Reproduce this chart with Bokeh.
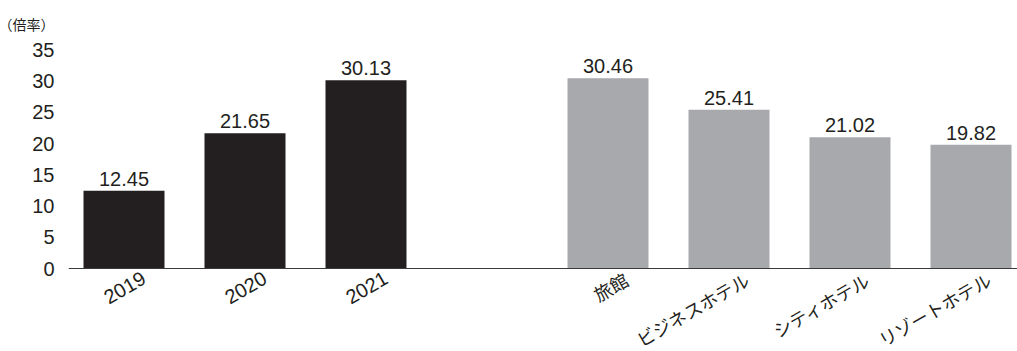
import math
from bokeh.plotting import figure
from bokeh.models import ColumnDataSource, Range1d, FixedTicker, Span
from bokeh.core.properties import value
from bokeh.embed import file_html
from bokeh.resources import INLINE

# ---- data ----
years = ["2019", "2020", "2021"]
year_values = [12.45, 21.65, 30.13]
types = ["旅館", "ビジネスホテル", "シティホテル", "リゾートホテル"]
type_values = [30.46, 25.41, 21.02, 19.82]
y_ticks = [0, 5, 10, 15, 20, 25, 30, 35]
unit_label = "（倍率）"

# ---- layout ----
W, H = 1017, 351
LEFT, TOP = 68, 38
ZERO_Y = 268          # pixel row of y = 0
PX_PER_UNIT = 6.25
PX_PER_SLOT = 121
FIRST_CENTER = 123.5

x_start = -(FIRST_CENTER - LEFT) / PX_PER_SLOT
x_end = x_start + (W - LEFT) / PX_PER_SLOT
y_end = (ZERO_Y - TOP) / PX_PER_UNIT
y_start = -(H - ZERO_Y) / PX_PER_UNIT

p = figure(width=W, height=H, output_backend="svg", toolbar_location=None,
           x_range=Range1d(x_start, x_end), y_range=Range1d(y_start, y_end),
           min_border_left=LEFT, min_border_right=0, min_border_bottom=0,
           min_border_top=TOP)
p.outline_line_color = None
p.xgrid.visible = False
p.ygrid.visible = False
p.xaxis.visible = False
p.background_fill_color = "white"
p.border_fill_color = "white"

BLACK = "#231f20"
GRAY = "#a7a9ac"
NUM_FONT = value("Liberation Sans")
JP_FONT = value("Noto Sans CJK JP")

yx = list(range(len(years)))
tx = [len(years) + 1 + i for i in range(len(types))]

src_y = ColumnDataSource(dict(x=yx, v=year_values, lab=years,
                              t=[f"{v:.2f}" for v in year_values]))
src_t = ColumnDataSource(dict(x=tx, v=type_values, lab=types,
                              t=[f"{v:.2f}" for v in type_values]))

BW = 81 / PX_PER_SLOT
p.vbar(x="x", top="v", bottom=0, width=BW, source=src_y,
       fill_color=BLACK, line_color=None)
p.vbar(x="x", top="v", bottom=0, width=BW, source=src_t,
       fill_color=GRAY, line_color=None)

for src in (src_y, src_t):
    p.text(x="x", y="v", text="t", source=src, text_align="center",
           text_baseline="bottom", y_offset=-5, text_font=NUM_FONT,
           text_font_size="20px", text_color=BLACK)

ang = math.radians(30)
p.text(x="x", y=0, text="lab", source=src_y, angle=ang, text_align="right",
       text_baseline="middle", x_offset=20, y_offset=8, text_font=NUM_FONT,
       text_font_size="20px", text_color=BLACK)
p.text(x="x", y=0, text="lab", source=src_t, angle=ang, text_align="right",
       text_baseline="middle", x_offset=18, y_offset=9, text_font=JP_FONT,
       text_font_size="18px", text_color=BLACK)

p.add_layout(Span(location=0, dimension="width", line_color="#3a3a3a",
                  line_width=1.2))

ya = p.yaxis[0]
ya.ticker = FixedTicker(ticks=y_ticks)
ya.axis_line_color = None
ya.major_tick_line_color = None
ya.minor_tick_line_color = None
ya.major_label_standoff = 8
ya.major_label_text_font = "Liberation Sans"
ya.major_label_text_font_size = "20px"
ya.major_label_text_color = BLACK

p.title.text = unit_label
p.title.align = "left"
p.title.offset = -(LEFT + 2)
p.title.text_font = "Noto Sans CJK JP"
p.title.text_font_size = "14px"
p.title.text_font_style = "normal"
p.title.text_color = BLACK
p.title.standoff = 10

open("out.html", "w").write(file_html(p, INLINE))
